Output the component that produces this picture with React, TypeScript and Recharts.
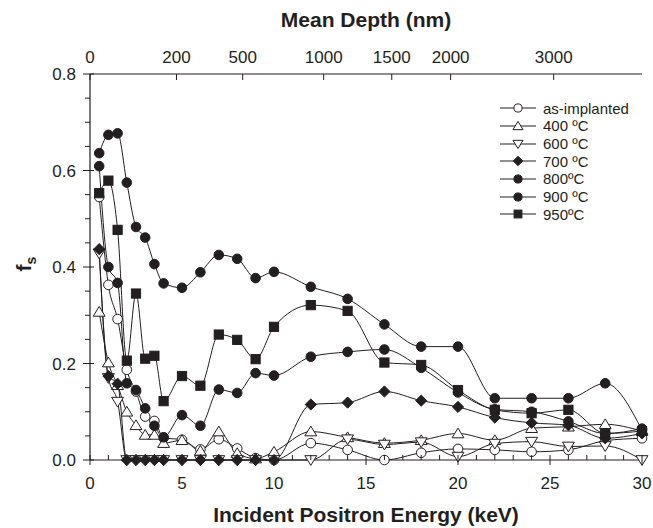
import React from 'react';
import { LineChart, Line, XAxis, YAxis, Legend } from 'recharts';

// incident positron energy (keV) of every measured point
const energy = [0.5, 1, 1.5, 2, 2.5, 3, 3.5, 4, 5, 6, 7, 8, 9, 10, 12, 14, 16, 18, 20, 22, 24, 26, 28, 30];

// S-fraction f_s per anneal state
const asImplanted = [0.545, 0.363, 0.292, 0.187, 0.142, 0.09, 0.081, 0.046, 0.042, 0.022, 0.043, 0.024, 0.004, 0.0, 0.035, 0.021, 0.0, 0.015, 0.023, 0.021, 0.017, 0.021, 0.04, 0.045];
const t400 = [0.307, 0.202, 0.155, 0.1, 0.072, 0.052, 0.052, 0.035, 0.041, 0.019, 0.059, 0.014, 0.003, 0.017, 0.059, 0.047, 0.035, 0.041, 0.055, 0.041, 0.066, 0.069, 0.074, 0.06];
const t600 = [0.428, 0.17, 0.121, 0, 0, 0, 0, 0, 0, 0, 0, 0, 0, 0, 0, 0.043, 0.032, 0.037, 0.007, 0.034, 0.038, 0.028, 0.029, 0];
const t700 = [0.437, 0.174, 0.158, 0, 0, 0, 0, 0, 0, 0, 0, 0, 0, 0, 0.115, 0.119, 0.142, 0.123, 0.11, 0.088, 0.077, 0.072, 0.045, 0.055];
const t800 = [0.609, 0.4, 0.367, 0.159, 0.145, 0.107, 0.071, 0.047, 0.093, 0.071, 0.146, 0.139, 0.18, 0.175, 0.214, 0.224, 0.229, 0.191, 0.14, 0.105, 0.1, 0.08, 0.055, 0.065];
const t900 = [0.636, 0.674, 0.677, 0.575, 0.483, 0.461, 0.406, 0.366, 0.357, 0.389, 0.425, 0.417, 0.377, 0.39, 0.359, 0.334, 0.281, 0.235, 0.235, 0.128, 0.128, 0.128, 0.159, 0.062];
const t950 = [0.553, 0.579, 0.477, 0.206, 0.345, 0.21, 0.216, 0.122, 0.174, 0.154, 0.26, 0.249, 0.209, 0.276, 0.321, 0.309, 0.202, 0.197, 0.145, 0.104, 0.097, 0.104, 0.055, 0.06];

// axis ticks
const energyTicks = [0, 1, 2, 3, 4, 5, 6, 7, 8, 9, 10, 11, 12, 13, 14, 15, 16, 17, 18, 19, 20, 21, 22, 23, 24, 25, 26, 27, 28, 29, 30];
const fsTicks = [0, 0.05, 0.1, 0.15, 0.2, 0.25, 0.3, 0.35, 0.4, 0.45, 0.5, 0.55, 0.6, 0.65, 0.7, 0.75, 0.8];
// top axis: mean depth labels placed at the matching energy
const depthTickEnergy = [0, 4.7, 8.3, 12.7, 16.4, 19.6, 25.2];
const depthTickLabels = ['0', '200', '500', '1000', '1500', '2000', '3000'];

const FONT = '"Liberation Sans", Arial, Helvetica, sans-serif';
const INK = '#231f20';
const GAP = 10;

type Shape = 'circle' | 'up' | 'down' | 'diamond' | 'square';

const series: { key: string; name: string; shape: Shape; filled: boolean; values: number[] }[] = [
  { key: 'asImplanted', name: 'as-implanted', shape: 'circle', filled: false, values: asImplanted },
  { key: 't400', name: '400 ºC', shape: 'up', filled: false, values: t400 },
  { key: 't600', name: '600 ºC', shape: 'down', filled: false, values: t600 },
  { key: 't700', name: '700 ºC', shape: 'diamond', filled: true, values: t700 },
  { key: 't800', name: '800ºC', shape: 'circle', filled: true, values: t800 },
  { key: 't900', name: '900 ºC', shape: 'circle', filled: true, values: t900 },
  { key: 't950', name: '950ºC', shape: 'square', filled: true, values: t950 },
];

const rows = energy.map((e, i) => {
  const row: Record<string, number> = { e };
  series.forEach((s) => (row[s.key] = s.values[i]));
  return row;
});

const Marker = ({ shape, filled, cx, cy, k = 1 }: { shape: Shape; filled: boolean; cx: number; cy: number; k?: number }) => {
  const fill = filled ? INK : '#fff';
  const common = { fill, stroke: INK, strokeWidth: 1 };
  if (shape === 'circle') return <circle cx={cx} cy={cy} r={4.8 * k} {...common} />;
  if (shape === 'square') {
    const h = 4.6 * k;
    return <rect x={cx - h} y={cy - h} width={2 * h} height={2 * h} {...common} />;
  }
  if (shape === 'diamond') {
    const h = 5.6 * k;
    return <polygon points={`${cx},${cy - h} ${cx + h},${cy} ${cx},${cy + h} ${cx - h},${cy}`} {...common} />;
  }
  const h = 5.4 * k;
  const d = shape === 'up' ? 1 : -1;
  return (
    <polygon
      points={`${cx},${cy - d * h} ${cx + h * 1.1},${cy + d * h * 0.8} ${cx - h * 1.1},${cy + d * h * 0.8}`}
      {...common}
    />
  );
};

const BottomTick = (props: any) => {
  const { x, y, payload } = props;
  const v = payload.value;
  const axisY = y - GAP;
  const major = v % 5 === 0;
  return (
    <g>
      <line x1={x} x2={x} y1={axisY - 5} y2={axisY + (major ? 5 : 0)} stroke={INK} />
      {major && (
        <text x={x} y={axisY + 29} textAnchor="middle" fontSize={17} fontFamily={FONT} fill={INK}>
          {v}
        </text>
      )}
    </g>
  );
};

const TopTick = (props: any) => {
  const { x, y, index } = props;
  const axisY = y + GAP;
  return (
    <g>
      <line x1={x} x2={x} y1={axisY} y2={axisY + 6} stroke={INK} />
      <text x={x} y={axisY - 11} textAnchor="middle" fontSize={17} fontFamily={FONT} fill={INK}>
        {depthTickLabels[index]}
      </text>
    </g>
  );
};

const LeftTick = (props: any) => {
  const { x, y, payload } = props;
  const v = payload.value;
  const axisX = x + GAP;
  const major = Math.round(v * 100) % 20 === 0;
  return (
    <g>
      <line x1={axisX - (major ? 7 : 5)} x2={axisX + (major ? 4 : 0)} y1={y} y2={y} stroke={INK} />
      {major && (
        <text x={axisX - 14} y={y + 6} textAnchor="end" fontSize={17} fontFamily={FONT} fill={INK}>
          {v.toFixed(1)}
        </text>
      )}
    </g>
  );
};

const LegendBox = () => (
  <div style={{ fontFamily: FONT, fontSize: 15, color: INK }}>
    {series.map((s) => (
      <div key={s.key} style={{ display: 'flex', alignItems: 'center', height: 17.67 }}>
        <svg width={36} height={14} style={{ overflow: 'visible' }}>
          <line x1={0} x2={36} y1={7} y2={7} stroke={INK} />
          <Marker shape={s.shape} filled={s.filled} cx={18} cy={7} k={0.85} />
        </svg>
        <span style={{ marginLeft: 7, whiteSpace: 'nowrap' }}>{s.name}</span>
      </div>
    ))}
  </div>
);

export default function App() {
  return (
    <div style={{ position: 'absolute', left: 0, top: 0 }}>
      <LineChart width={653} height={528} data={rows} margin={{ top: 34, right: 11, bottom: 8, left: 30 }}>
        <XAxis
          xAxisId="bottom"
          dataKey="e"
          type="number"
          domain={[0, 30]}
          ticks={energyTicks}
          interval={0}
          tickSize={0}
          tickMargin={GAP}
          tick={BottomTick}
          height={60}
          axisLine={{ stroke: INK, strokeWidth: 1.2 }}
          label={{
            content: (p: any) => (
              <text x={p.viewBox.x + p.viewBox.width / 2} y={522} textAnchor="middle" fontSize={21} fontWeight="bold" fontFamily={FONT} fill={INK}>
                Incident Positron Energy (keV)
              </text>
            ),
          }}
        />
        <XAxis
          xAxisId="top"
          orientation="top"
          dataKey="e"
          type="number"
          domain={[0, 30]}
          ticks={depthTickEnergy}
          interval={0}
          tickSize={0}
          tickMargin={GAP}
          tick={TopTick}
          height={40}
          axisLine={{ stroke: INK, strokeWidth: 1.2 }}
          label={{
            content: (p: any) => (
              <text x={p.viewBox.x + p.viewBox.width / 2} y={27} textAnchor="middle" fontSize={21} fontWeight="bold" fontFamily={FONT} fill={INK}>
                Mean Depth (nm)
              </text>
            ),
          }}
        />
        <YAxis
          yAxisId="left"
          type="number"
          domain={[0, 0.8]}
          ticks={fsTicks}
          interval={0}
          tickSize={0}
          tickMargin={GAP}
          tick={LeftTick}
          width={60}
          axisLine={{ stroke: INK, strokeWidth: 1.2 }}
          label={{
            content: () => (
              <text x={31} y={264} transform="rotate(-90, 31, 264)" textAnchor="middle" fontSize={21} fontWeight="bold" fontFamily={FONT} fill={INK}>
                f<tspan dy={5} fontSize={14}>s</tspan>
              </text>
            ),
          }}
        />
        <YAxis yAxisId="right" orientation="right" type="number" domain={[0, 0.8]} tick={false} tickLine={false} width={0} axisLine={{ stroke: INK, strokeWidth: 1.2 }} />
        <Legend
          layout="vertical"
          align="center"
          verticalAlign="middle"
          content={() => <LegendBox />}
          wrapperStyle={{ left: 500, top: 99.5, width: 150 }}
        />
        {series.map((s) => (
          <Line
            key={s.key}
            xAxisId="bottom"
            yAxisId="left"
            dataKey={s.key}
            name={s.name}
            type="monotone"
            stroke={INK}
            strokeWidth={1}
            isAnimationActive={false}
            activeDot={false}
            dot={(p: any) => <Marker key={`${s.key}-${p.index}`} shape={s.shape} filled={s.filled} cx={p.cx} cy={p.cy} />}
          />
        ))}
      </LineChart>
    </div>
  );
}
